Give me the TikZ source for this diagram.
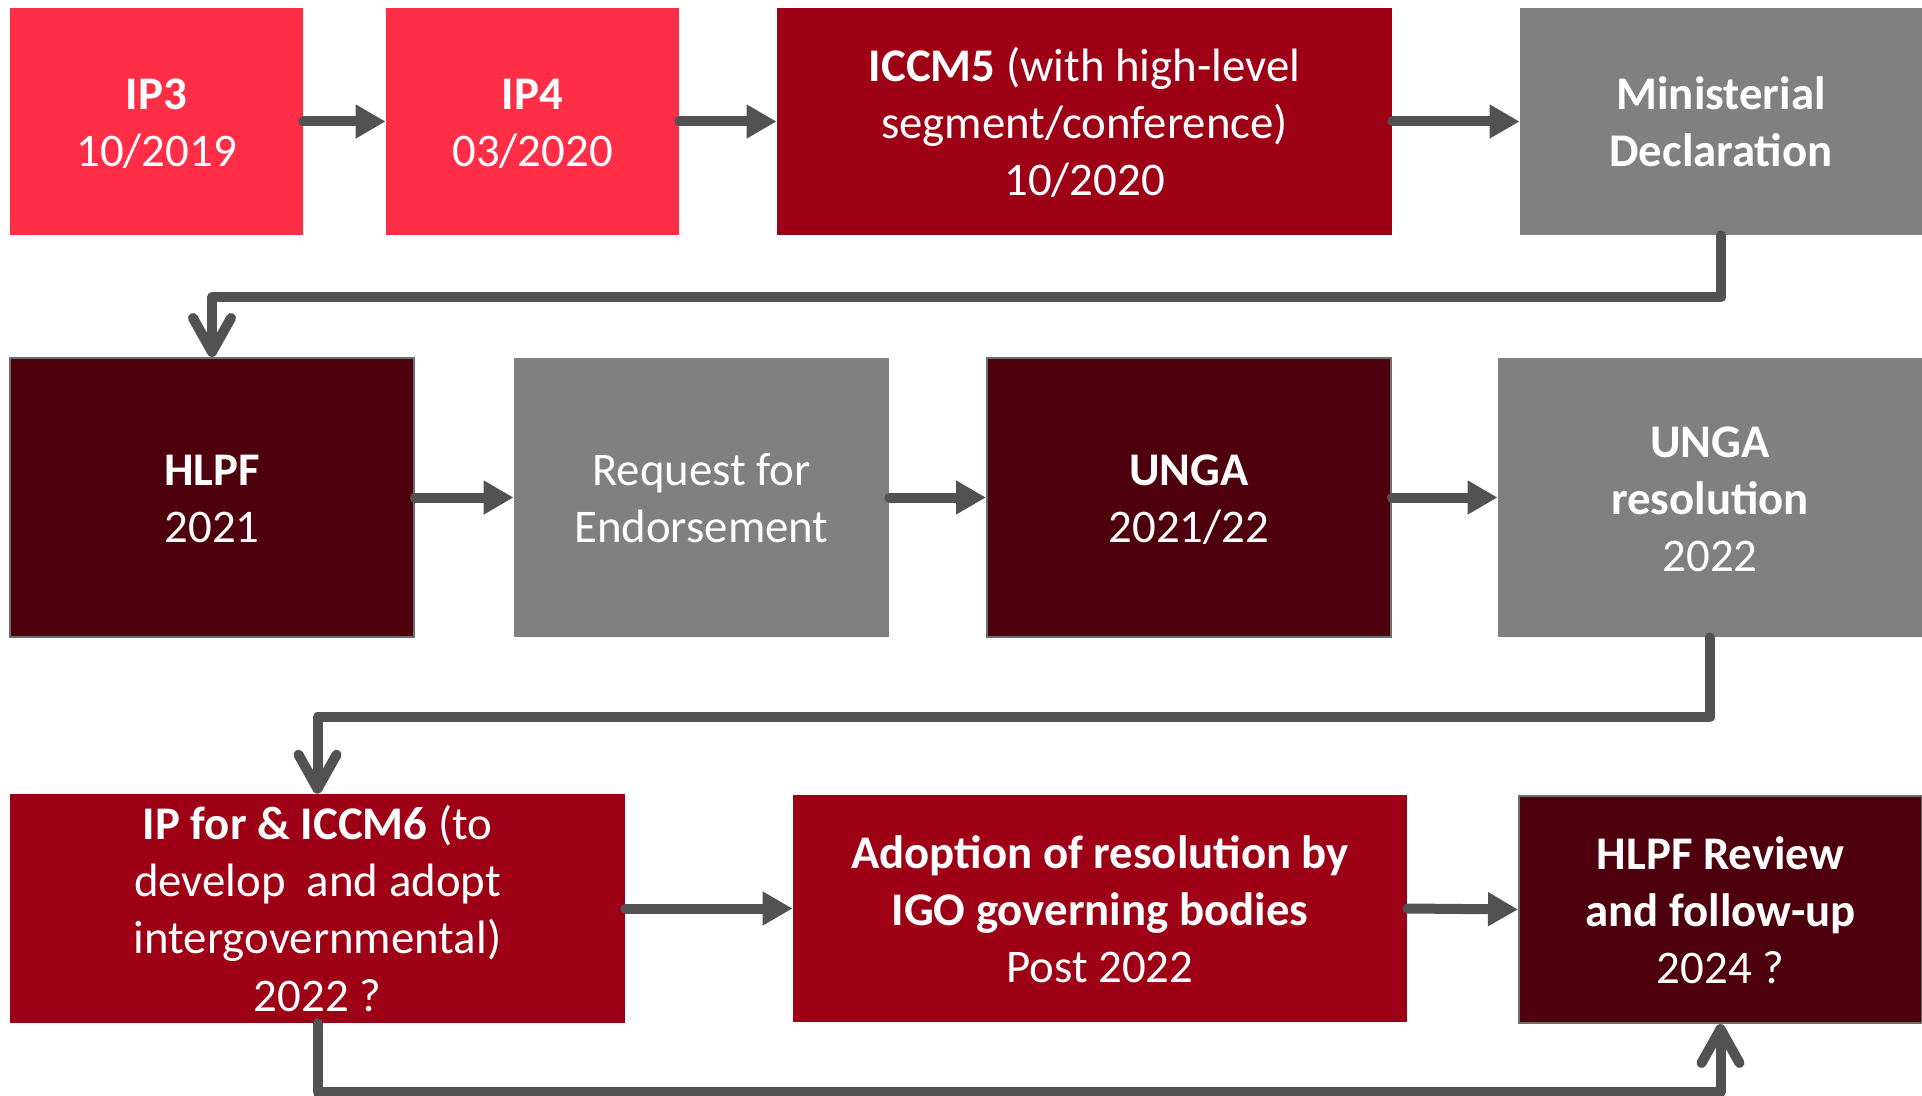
\documentclass[tikz,border=0pt]{standalone}
\usepackage{fontspec}
\setmainfont{Carlito}
\usetikzlibrary{arrows.meta}

\definecolor{stageLight}{RGB}{255,45,70}
\definecolor{stageMid}{RGB}{158,0,22}
\definecolor{stageDark}{RGB}{78,0,13}
\definecolor{stageGray}{RGB}{128,128,128}
\definecolor{edgeGray}{RGB}{110,110,110}
\definecolor{linkGray}{RGB}{82,82,82}

% line-box struts so every block is centred on its full line metrics
\newcommand\firstlinestrut{\rule{0pt}{22.7pt}}
\newcommand\lastlinestrut{\rule[-5.9pt]{0pt}{5.9pt}}

\begin{document}
\begin{tikzpicture}[x=0.5pt,y=-0.5pt,
  box/.style={rectangle, inner sep=0pt, align=center, text=white,
    font=\fontsize{23.4pt}{28.6pt}\selectfont},
  shortbox/.style={box, minimum height=113.5pt},
  tallbox/.style={box, minimum height=139.5pt},
  light/.style={fill=stageLight},
  mid/.style={fill=stageMid},
  dark/.style={fill=stageDark, draw=edgeGray, line width=1pt},
  grey/.style={fill=stageGray},
  flow/.style={draw=linkGray, line width=5pt, line cap=round,
    -{Triangle[length=15pt,width=16pt]}},
  conn/.style={draw=linkGray, line width=5pt, line cap=round, line join=round,
    -{Straight Barb[length=17pt,width=19pt,round]}}
]
\useasboundingbox (0,0) rectangle (1922,1096);

% first row
\node[shortbox, light, minimum width=146.5pt] (ip3) at (156.5,121.5)
  {\firstlinestrut\textbf{IP3}\\10/2019\lastlinestrut};
\node[shortbox, light, minimum width=146.5pt] (ip4) at (532.5,121.5)
  {\firstlinestrut\textbf{IP4}\\03/2020\lastlinestrut};
\node[shortbox, mid, minimum width=307.5pt] (iccm5) at (1084.5,121.5)
  {\firstlinestrut\textbf{ICCM5} (with high-level\\segment/conference)\\10/2020\lastlinestrut};
\node[shortbox, grey, minimum width=201pt] (mindecl) at (1721,121.5)
  {\firstlinestrut\textbf{Ministerial}\\\textbf{Declaration}\lastlinestrut};

% second row
\node[tallbox, dark, minimum width=202pt] (hlpf) at (212,497.5)
  {\firstlinestrut\textbf{HLPF}\\2021\lastlinestrut};
\node[tallbox, grey, minimum width=187.5pt] (req) at (701.5,497.5)
  {\firstlinestrut Request for\\Endorsement\lastlinestrut};
\node[tallbox, dark, minimum width=202pt] (unga) at (1189,497.5)
  {\firstlinestrut\textbf{UNGA}\\2021/22\lastlinestrut};
\node[tallbox, grey, minimum width=212pt] (ungares) at (1710,497.5)
  {\firstlinestrut\textbf{UNGA}\\\textbf{resolution}\\2022\lastlinestrut};

% third row
\node[shortbox, mid, minimum width=307.5pt] (ipfor) at (317.5,908.5)
  {\firstlinestrut\textbf{IP for \& ICCM6} (to\\develop~ and adopt\\intergovernmental)\\2022 ?\lastlinestrut};
\node[shortbox, mid, minimum width=307pt] (adopt) at (1100,908.5)
  {\firstlinestrut\textbf{Adoption of resolution by}\\\textbf{IGO governing bodies}\\Post 2022\lastlinestrut};
\node[shortbox, dark, minimum width=201.5pt] (hlpfrev) at (1720.5,909.5)
  {\firstlinestrut\textbf{HLPF Review}\\\textbf{and follow-up}\\2024 ?\lastlinestrut};

% straight links
\draw[flow] (ip3.east) -- (ip4.west);
\draw[flow] (ip4.east) -- (iccm5.west);
\draw[flow] (iccm5.east) -- (mindecl.west);
\draw[flow] (hlpf.east) -- (req.west);
\draw[flow] (req.east) -- (unga.west);
\draw[flow] (unga.east) -- (ungares.west);
\draw[flow] (ipfor.east) -- (adopt.west);
\draw[flow] (adopt.east) -- (hlpfrev.west);

% elbow links between rows
\draw[conn] (mindecl.south) -- ++(0,62) -| (hlpf.north);
\draw[conn] (ungares.south) -- ++(0,80) -| (ipfor.north);
\draw[conn] (ipfor.south) -- ++(0,69) -| (hlpfrev.south);
\end{tikzpicture}
\end{document}
